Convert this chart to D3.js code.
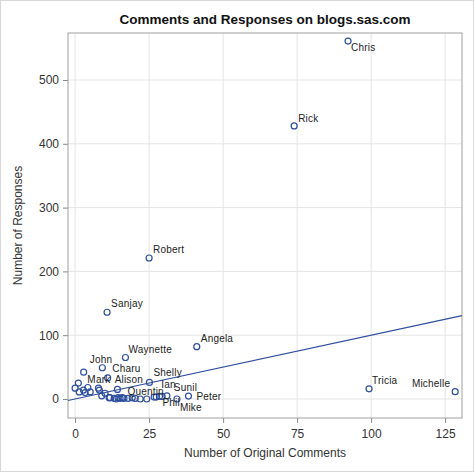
<!DOCTYPE html>
<html>
<head>
<meta charset="utf-8">
<script src="https://cdn.jsdelivr.net/npm/d3@7"></script>
<style>
  body { margin: 0; background: #fff; }
  svg { font-family: "Liberation Sans", Arial, sans-serif; }
  .axis text { font-size: 12px; fill: #333; }
  .axis path, .axis line { stroke: #888; }
  .grid line { stroke: #e4e4e4; }
  .ptlabel { font-size: 10px; fill: #222; letter-spacing: 0.2px; }
</style>
</head>
<body>
<div id="chart"></div>
<script>
// blogger names (empty = unlabelled)
const names = [
  'Chris', 'Rick', 'Robert', 'Sanjay', 'Angela', 'Waynette', 'John', 'Charu',
  'Mark', 'Alison', 'Shelly', 'Quentin', 'Ian', 'Sunil', 'Phil', 'Mike', 'Peter',
  'Tricia', 'Michelle',
  '', '', '', '', '', '', '', '', '', '', '', '', '', '', '', '', '', '', '', '',
  '', '', '', '', ''
];
// number of original comments
const comments = [
  92.2, 74, 25, 10.8, 41.1, 17, 2.9, 9.2,
  1.1, 11, 25.1, 14.3, 27.4, 31, 28.5, 34.4, 38.3,
  99.3, 128.4,
  0, 1.4, 2.8, 3.4, 4.3, 5.1, 7.9, 8.2, 9, 10.1, 11.8, 13.2, 13.9, 14.5, 15.2, 15.9,
  17.9, 19.3, 20.3, 22, 24.2, 26.7, 29.4, 11.5, 16.5
];
// number of responses
const responses = [
  561, 428, 221, 136, 82, 65, 42, 49,
  25, 33, 26, 15, 3, 5, 4, 0, 4.5,
  16, 11.5,
  17, 11, 14, 10, 18, 11, 17, 14, 5, 9, 2, 1, 0, 2, 1, 2,
  1, 2, 1, 0, 0, 3, 4, 2, 1
];
const xTicks = [0, 25, 50, 75, 100, 125];
const yTicks = [0, 100, 200, 300, 400, 500];
// reference line y = x
const refSlope = 1;

// label placement relative to the marker (px)
const labelPos = {
  Chris: [3, 10], Rick: [4, -4], Robert: [4, -5], Sanjay: [4, -5], Angela: [4, -5],
  Waynette: [3, -5], John: [6, -9], Charu: [10, 4], Mark: [9, 0], Alison: [7, 5],
  Shelly: [4, -6], Quentin: [10, 6], Ian: [5, -9], Sunil: [7, -5], Phil: [3, 10],
  Mike: [3, 12], Peter: [8, 4], Tricia: [3, -5], Michelle: [-5, -5]
};

const W = 474, H = 474;
const margin = {top: 33, right: 12, bottom: 56, left: 68};
const color = '#2e4f9d';

const data = comments.map((c, i) => ({name: names[i], x: c, y: responses[i]}));

const x = d3.scaleLinear().domain([-2.4, 130.7]).range([margin.left, W - margin.right]);
const y = d3.scaleLinear().domain([-29.8, 573.7]).range([H - margin.bottom, margin.top]);

const svg = d3.select('#chart').append('svg')
  .attr('width', W).attr('height', H);

svg.append('rect')
  .attr('x', 0.5).attr('y', 0.5).attr('width', W - 1).attr('height', H - 3)
  .attr('fill', 'none').attr('stroke', '#d8d8d8');

svg.append('text')
  .attr('x', (margin.left + W - margin.right) / 2).attr('y', 24)
  .attr('text-anchor', 'middle')
  .style('font-size', '13.5px').style('font-weight', 'bold').attr('fill', '#111')
  .text('Comments and Responses on blogs.sas.com');

// grid
svg.append('g').attr('class', 'grid')
  .selectAll('line').data(xTicks).join('line')
  .attr('x1', d => x(d)).attr('x2', d => x(d))
  .attr('y1', margin.top).attr('y2', H - margin.bottom);
svg.append('g').attr('class', 'grid')
  .selectAll('line').data(yTicks).join('line')
  .attr('y1', d => y(d)).attr('y2', d => y(d))
  .attr('x1', margin.left).attr('x2', W - margin.right);

// axes
svg.append('g').attr('class', 'axis')
  .attr('transform', 'translate(0,' + (H - margin.bottom) + ')')
  .call(d3.axisBottom(x).tickValues(xTicks).tickSize(5).tickSizeOuter(0).tickPadding(6))
  .call(g => g.select('.domain').remove());
svg.append('g').attr('class', 'axis')
  .attr('transform', 'translate(' + margin.left + ',0)')
  .call(d3.axisLeft(y).tickValues(yTicks).tickSize(5).tickSizeOuter(0).tickPadding(4))
  .call(g => g.select('.domain').remove());

// frame
svg.append('rect')
  .attr('x', margin.left).attr('y', margin.top)
  .attr('width', W - margin.left - margin.right)
  .attr('height', H - margin.top - margin.bottom)
  .attr('fill', 'none').attr('stroke', '#a0a0a0');

svg.append('text')
  .attr('x', (margin.left + W - margin.right) / 2).attr('y', 457)
  .attr('text-anchor', 'middle').style('font-size', '12px').attr('fill', '#333')
  .text('Number of Original Comments');
svg.append('text')
  .attr('transform', 'translate(22,' + ((margin.top + H - margin.bottom) / 2) + ') rotate(-90)')
  .attr('text-anchor', 'middle').style('font-size', '12px').attr('fill', '#333')
  .text('Number of Responses');

const plot = svg.append('g');

// reference line
const xd = x.domain();
plot.append('line')
  .attr('x1', x(xd[0])).attr('y1', y(refSlope * xd[0]))
  .attr('x2', x(xd[1])).attr('y2', y(refSlope * xd[1]))
  .attr('stroke', color).attr('stroke-width', 1.2);

plot.selectAll('circle').data(data).join('circle')
  .attr('cx', d => x(d.x)).attr('cy', d => y(d.y)).attr('r', 3)
  .attr('fill', 'none').attr('stroke', color).attr('stroke-width', 1.2);

plot.selectAll('.ptlabel').data(data.filter(d => d.name)).join('text')
  .attr('class', 'ptlabel')
  .attr('x', d => x(d.x) + labelPos[d.name][0])
  .attr('y', d => y(d.y) + labelPos[d.name][1])
  .attr('text-anchor', d => labelPos[d.name][0] < 0 ? 'end' : 'start')
  .text(d => d.name);
</script>
</body>
</html>
